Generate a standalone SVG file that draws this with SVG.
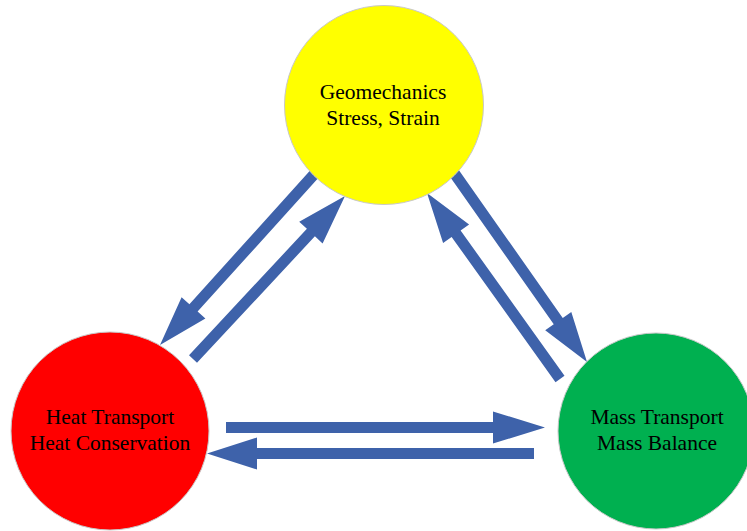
<svg xmlns="http://www.w3.org/2000/svg" width="747" height="531" viewBox="0 0 747 531">
<style>
.arrow{fill:#3E62AA;stroke:none}
.node{stroke:#C8C8C8;stroke-width:1}
.lbl{font-family:"Liberation Serif","Times New Roman",serif;font-size:21.5px;fill:#000;text-anchor:middle}
</style>
<rect width="747" height="531" fill="#fff"/>
<g id="connectors">
<polygon class="arrow" points="322.1,173.7 197.6,311.6 205.4,318.6 160,345 181.6,297.2 189.4,304.2 313.9,166.3"/>
<polygon class="arrow" points="197.0,362.8 314.9,236.3 322.6,243.5 345,196 299.2,221.7 306.9,228.8 189.0,355.2"/>
<polygon class="arrow" points="456.5,166.8 562.75,317.9 571.3,311.9 587,362 545.2,330.3 553.75,324.3 447.5,173.2"/>
<polygon class="arrow" points="564.5,375.8 460.6,230.5 469.1,224.4 427,193 443.1,243.0 451.6,236.9 555.5,382.2"/>
<polygon class="arrow" points="226,422 493,422 493,411.5 545,427.5 493,443.5 493,433 226,433"/>
<polygon class="arrow" points="534,448 257,448 257,437.5 207,453.5 257,469.5 257,459 534,459"/>
</g>
<g id="geomechanics">
<circle class="node" cx="384" cy="105" r="99.5" fill="#FFFF00"/>
<text class="lbl" x="383" y="99">Geomechanics</text>
<text class="lbl" x="383" y="125">Stress, Strain</text>
</g>
<g id="heat">
<circle class="node" cx="110" cy="431" r="99" fill="#FF0000"/>
<text class="lbl" x="110" y="424">Heat Transport</text>
<text class="lbl" x="110" y="450">Heat Conservation</text>
</g>
<g id="mass">
<circle class="node" cx="656" cy="431" r="98" fill="#00B050"/>
<text class="lbl" x="657" y="424">Mass Transport</text>
<text class="lbl" x="657" y="450">Mass Balance</text>
</g>
</svg>
